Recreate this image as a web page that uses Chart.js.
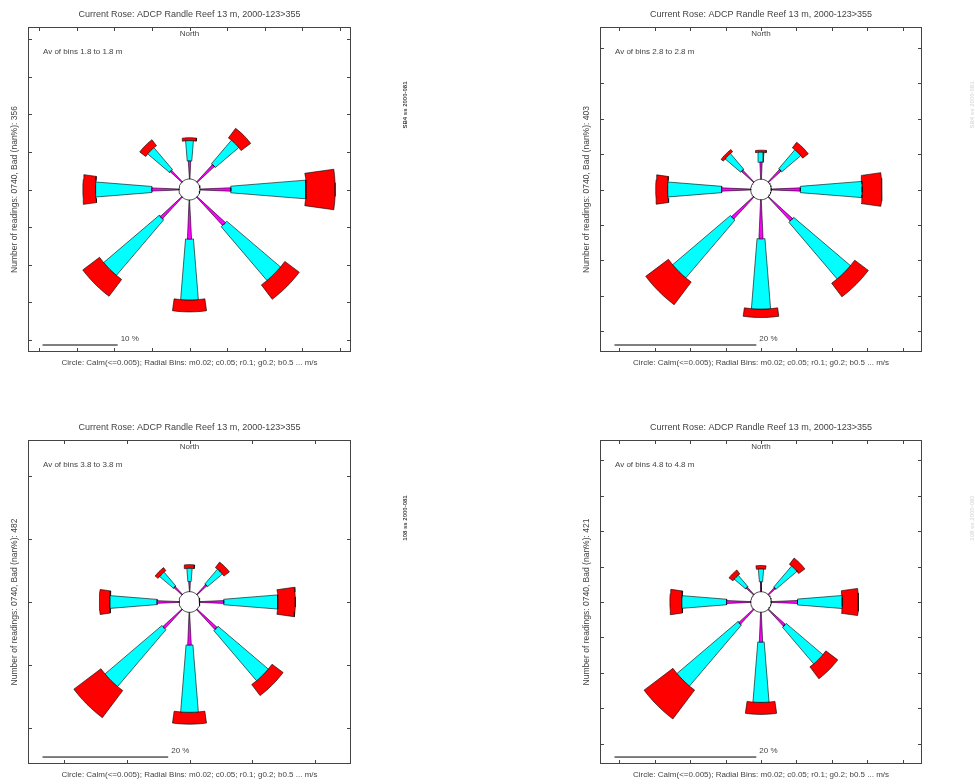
<!DOCTYPE html>
<html>
<head>
<meta charset="utf-8">
<script src="https://cdn.jsdelivr.net/npm/chart.js@4.4.0/dist/chart.umd.min.js"></script>
<style>
  body { margin: 0; background: #fff; width: 975px; height: 784px; position: relative; overflow: hidden; }
  canvas { position: absolute; }
</style>
</head>
<body>
<canvas id="rose0"></canvas>
<canvas id="rose1"></canvas>
<canvas id="rose2"></canvas>
<canvas id="rose3"></canvas>
<script>
// compass sectors and speed bins
const directions = ['N', 'NE', 'E', 'SE', 'S', 'SW', 'W', 'NW'];
const directionAngles = [0, 45, 90, 135, 180, 225, 270, 315];
const speedBins = ['m 0.005-0.02', 'c 0.02-0.05', 'r 0.05-0.1'];

// one panel per depth bin
const binDepths = ['1.8', '2.8', '3.8', '4.8'];
const badCounts = [356, 403, 482, 421];
const calmPct = [1.4, 1.45, 1.65, 1.45];
const scaleBarPct = [10, 20, 20, 20];
const axisLimit = [21.5, 22.7, 25.7, 22.7];
const tickStep = [5, 5, 10, 5];

// % of readings per direction (N, NE, E, SE, S, SW, W, NW), per speed bin
const magenta1 = [2.4, 3.1, 4.1, 5.1, 5.2, 3.9, 3.6, 2.1];
const cyan1    = [2.7, 4.1, 10.0, 9.4, 8.1, 9.7, 7.5, 3.8];
const red1     = [0.4, 1.6, 3.9, 2.4, 1.6, 2.8, 1.7, 1.0];

const magenta2 = [2.4, 2.4, 4.1, 4.6, 5.5, 4.2, 4.1, 2.3];
const cyan2    = [1.4, 3.5, 8.7, 10.5, 9.9, 10.7, 7.6, 2.9];
const red2     = [0.3, 1.0, 2.8, 2.4, 1.2, 4.0, 1.7, 0.4];

const magenta3 = [1.6, 2.1, 3.8, 4.3, 5.2, 4.1, 3.5, 1.7];
const cyan3    = [2.1, 3.1, 8.6, 10.5, 10.7, 11.9, 7.5, 2.9];
const red3     = [0.6, 1.1, 2.8, 2.2, 1.9, 5.4, 1.7, 0.6];

const magenta4 = [1.4, 1.3, 3.7, 3.2, 4.2, 2.8, 3.4, 1.4];
const cyan4    = [1.8, 3.9, 6.3, 6.8, 8.5, 11.3, 6.3, 2.1];
const red4     = [0.5, 1.1, 2.3, 2.1, 1.7, 5.1, 1.7, 0.7];

const panelBins = [
  [magenta1, cyan1, red1],
  [magenta2, cyan2, red2],
  [magenta3, cyan3, red3],
  [magenta4, cyan4, red4]
];

// styling
const binColours = ['#ff00ff', '#00ffff', '#ff0000'];
const binHalfAngle = [2.4, 4.6, 8];
const FONT = '"Liberation Sans", Arial, sans-serif';
const TITLE = 'Current Rose: ADCP Randle Reef 13 m, 2000-123>355';
const CAPTION = 'Circle: Calm(<=0.005); Radial Bins: m0.02; c0.05; r0.1; g0.2; b0.5 ... m/s';

// canvas and axes box for each panel
const frames = [
  { left: 0,   top: 0,   w: 480, h: 392, box: { x: 28,  y: 27,  w: 323, h: 325 }, side: 'SB4 ss 2000-081', faint: false },
  { left: 560, top: 0,   w: 415, h: 392, box: { x: 600, y: 27,  w: 322, h: 325 }, side: 'SB4 ss 2000-081', faint: true },
  { left: 0,   top: 392, w: 480, h: 392, box: { x: 28,  y: 440, w: 323, h: 324 }, side: '108 ss 2000-081', faint: false },
  { left: 560, top: 392, w: 415, h: 392, box: { x: 600, y: 440, w: 322, h: 324 }, side: '108 ss 2000-081', faint: true }
];

function sectorPoints(theta, r0, r1, half) {
  const pts = [];
  const n = 6;
  for (let i = 0; i <= n; i++) {
    const a = (theta - half + 2 * half * i / n) * Math.PI / 180;
    pts.push({ x: r1 * Math.sin(a), y: r1 * Math.cos(a) });
  }
  for (let i = n; i >= 0; i--) {
    const a = (theta - half + 2 * half * i / n) * Math.PI / 180;
    pts.push({ x: r0 * Math.sin(a), y: r0 * Math.cos(a) });
  }
  pts.push(pts[0]);
  return pts;
}

function circlePoints(r) {
  const pts = [];
  for (let i = 0; i <= 48; i++) {
    const a = i / 48 * 2 * Math.PI;
    pts.push({ x: r * Math.sin(a), y: r * Math.cos(a) });
  }
  return pts;
}

// draws the MATLAB style frame, ticks and text
const framePlugin = {
  id: 'roseFrame',
  afterDraw(chart, args, opts) {
    const { ctx, chartArea: a, scales: { x, y } } = chart;
    const p = opts.panel;
    ctx.save();
    ctx.strokeStyle = '#444';
    ctx.lineWidth = 1;
    ctx.strokeRect(a.left + 0.5, a.top + 0.5, a.right - a.left - 1, a.bottom - a.top - 1);

    // inward ticks on all four sides
    const step = tickStep[p];
    const t = 4;
    ctx.beginPath();
    for (let v = -Math.floor(x.max / step) * step; v <= x.max; v += step) {
      const px = Math.round(x.getPixelForValue(v)) + 0.5;
      ctx.moveTo(px, a.top); ctx.lineTo(px, a.top + t);
      ctx.moveTo(px, a.bottom); ctx.lineTo(px, a.bottom - t);
    }
    for (let v = -Math.floor(y.max / step) * step; v <= y.max; v += step) {
      const py = Math.round(y.getPixelForValue(v)) + 0.5;
      ctx.moveTo(a.left, py); ctx.lineTo(a.left + t, py);
      ctx.moveTo(a.right, py); ctx.lineTo(a.right - t, py);
    }
    ctx.stroke();

    const cx = (a.left + a.right) / 2;
    ctx.fillStyle = '#444';
    ctx.textBaseline = 'middle';

    ctx.font = '9px ' + FONT;
    ctx.textAlign = 'center';
    ctx.fillText(TITLE, cx, a.top - 12);

    ctx.font = '8px ' + FONT;
    ctx.fillText('North', cx, a.top + 7);
    ctx.fillText(CAPTION, cx, a.bottom + 11);

    ctx.textAlign = 'left';
    ctx.fillText('Av of bins ' + binDepths[p] + ' to ' + binDepths[p] + ' m', a.left + 15, a.top + 25);

    // scale bar label
    const bar = opts.bar;
    ctx.fillText(scaleBarPct[p] + ' %', x.getPixelForValue(bar.x1) + 3, y.getPixelForValue(bar.y) - 6);

    // rotated y label
    ctx.save();
    ctx.translate(a.left - 13, a.top + 0.5 * (a.bottom - a.top));
    ctx.rotate(-Math.PI / 2);
    ctx.textAlign = 'center';
    ctx.font = '8.5px ' + FONT;
    ctx.fillText('Number of readings: 0740, Bad (nan%): ' + badCounts[p], 0, 0);
    ctx.restore();

    // small side stamp
    ctx.save();
    ctx.translate(a.right + (opts.faint ? 50 : 54), a.top + 78);
    ctx.rotate(-Math.PI / 2);
    ctx.textAlign = 'center';
    ctx.font = 'bold 6px ' + FONT;
    ctx.fillStyle = opts.faint ? '#ddd' : '#444';
    ctx.fillText(opts.side, 0, 0);
    ctx.restore();

    ctx.restore();
  }
};

frames.forEach((f, p) => {
  const canvas = document.getElementById('rose' + p);
  canvas.width = f.w;
  canvas.height = f.h;
  canvas.style.left = f.left + 'px';
  canvas.style.top = f.top + 'px';
  canvas.style.width = f.w + 'px';
  canvas.style.height = f.h + 'px';

  const L = axisLimit[p];
  const Ly = L * f.box.h / f.box.w;
  const calm = calmPct[p];
  const bins = panelBins[p];

  const datasets = [];
  directions.forEach((dir, d) => {
    let r0 = calm;
    bins.forEach((series, b) => {
      const r1 = r0 + series[d];
      datasets.push({
        label: dir + ' ' + speedBins[b],
        data: sectorPoints(directionAngles[d], r0, r1, binHalfAngle[b]),
        showLine: true,
        fill: 'shape',
        backgroundColor: binColours[b],
        borderColor: '#000',
        borderWidth: 0.6,
        pointRadius: 0,
        tension: 0
      });
      r0 = r1;
    });
  });

  // calm circle and centre mark
  datasets.push({
    label: 'calm',
    data: circlePoints(calm),
    showLine: true,
    fill: 'shape',
    backgroundColor: '#fff',
    borderColor: '#000',
    borderWidth: 0.7,
    pointRadius: 0
  });
  datasets.push({
    label: 'centre',
    data: [{ x: 0, y: 0 }],
    showLine: false,
    pointStyle: 'cross',
    pointRadius: 2.5,
    borderColor: '#555',
    borderWidth: 1
  });

  // scale bar
  const bar = { x0: -L + 0.045 * 2 * L, y: -Ly + 0.0215 * 2 * Ly };
  bar.x1 = bar.x0 + scaleBarPct[p];
  datasets.push({
    label: 'scale',
    data: [{ x: bar.x0, y: bar.y }, { x: bar.x1, y: bar.y }],
    showLine: true,
    fill: false,
    borderColor: '#000',
    borderWidth: 1,
    pointRadius: 0
  });

  new Chart(canvas, {
    type: 'scatter',
    data: { datasets },
    options: {
      responsive: false,
      animation: false,
      events: [],
      layout: {
        padding: {
          left: f.box.x - f.left,
          top: f.box.y - f.top,
          right: f.w - (f.box.x - f.left + f.box.w),
          bottom: f.h - (f.box.y - f.top + f.box.h)
        }
      },
      scales: {
        x: { type: 'linear', min: -L, max: L, display: false },
        y: { type: 'linear', min: -Ly, max: Ly, display: false }
      },
      plugins: {
        legend: { display: false },
        tooltip: { enabled: false },
        roseFrame: { panel: p, bar, side: f.side, faint: f.faint }
      }
    },
    plugins: [framePlugin]
  });
});
</script>
</body>
</html>
